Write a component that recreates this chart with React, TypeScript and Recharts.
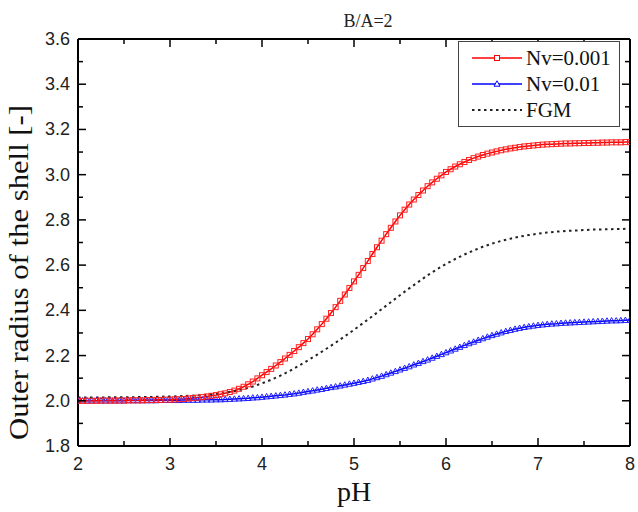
import React from 'react';
import { LineChart, Line, XAxis, YAxis, Legend } from 'recharts';

const phValues = [2,2.05,2.1,2.15,2.2,2.25,2.3,2.35,2.4,2.45,2.5,2.55,2.6,2.65,2.7,2.75,2.8,2.85,2.9,2.95,3,3.05,3.1,3.15,3.2,3.25,3.3,3.35,3.4,3.45,3.5,3.55,3.6,3.65,3.7,3.75,3.8,3.85,3.9,3.95,4,4.05,4.1,4.15,4.2,4.25,4.3,4.35,4.4,4.45,4.5,4.55,4.6,4.65,4.7,4.75,4.8,4.85,4.9,4.95,5,5.05,5.1,5.15,5.2,5.25,5.3,5.35,5.4,5.45,5.5,5.55,5.6,5.65,5.7,5.75,5.8,5.85,5.9,5.95,6,6.05,6.1,6.15,6.2,6.25,6.3,6.35,6.4,6.45,6.5,6.55,6.6,6.65,6.7,6.75,6.8,6.85,6.9,6.95,7,7.05,7.1,7.15,7.2,7.25,7.3,7.35,7.4,7.45,7.5,7.55,7.6,7.65,7.7,7.75,7.8,7.85,7.9,7.95,8];

const nv001 = [
  2.000,2.000,2.000,2.000,2.000,2.001,2.001,2.001,2.001,2.001,
  2.001,2.002,2.002,2.002,2.002,2.003,2.003,2.004,2.004,2.005,
  2.005,2.006,2.007,2.008,2.010,2.012,2.014,2.016,2.019,2.022,
  2.025,2.029,2.033,2.039,2.045,2.053,2.062,2.073,2.085,2.099,
  2.113,2.127,2.141,2.156,2.171,2.187,2.203,2.220,2.237,2.255,
  2.273,2.294,2.316,2.339,2.363,2.388,2.414,2.442,2.470,2.499,
  2.528,2.557,2.587,2.618,2.649,2.679,2.708,2.737,2.765,2.793,
  2.820,2.845,2.868,2.890,2.910,2.930,2.949,2.966,2.982,2.997,
  3.012,3.024,3.036,3.046,3.056,3.065,3.073,3.080,3.087,3.093,
  3.098,3.103,3.108,3.112,3.116,3.119,3.122,3.125,3.127,3.129,
  3.131,3.133,3.134,3.135,3.136,3.137,3.138,3.138,3.139,3.139,
  3.140,3.140,3.141,3.141,3.142,3.142,3.143,3.143,3.143,3.144,
  3.144
];

const nv01 = [
  2.000,2.000,2.000,2.000,2.000,2.000,2.000,2.000,2.000,2.000,
  2.000,2.001,2.001,2.001,2.001,2.001,2.001,2.001,2.002,2.002,
  2.002,2.002,2.002,2.003,2.003,2.003,2.003,2.004,2.004,2.004,
  2.005,2.005,2.006,2.007,2.008,2.009,2.010,2.011,2.013,2.014,
  2.016,2.018,2.020,2.022,2.024,2.026,2.029,2.031,2.034,2.038,
  2.041,2.044,2.048,2.051,2.055,2.059,2.062,2.066,2.070,2.074,
  2.078,2.082,2.086,2.091,2.097,2.103,2.109,2.116,2.123,2.130,
  2.137,2.144,2.151,2.159,2.166,2.174,2.181,2.189,2.197,2.205,
  2.213,2.221,2.229,2.237,2.245,2.253,2.260,2.268,2.275,2.282,
  2.289,2.295,2.301,2.307,2.312,2.317,2.321,2.325,2.328,2.331,
  2.334,2.336,2.338,2.340,2.341,2.343,2.344,2.345,2.346,2.347,
  2.348,2.349,2.350,2.351,2.352,2.353,2.354,2.354,2.355,2.356,
  2.357
];

const fgmPH = [2,2.1,2.2,2.3,2.4,2.5,2.6,2.7,2.8,2.9,3,3.1,3.2,3.3,3.4,3.5,3.6,3.7,3.8,3.9,4,4.1,4.2,4.3,4.4,4.5,4.6,4.7,4.8,4.9,5,5.1,5.2,5.3,5.4,5.5,5.6,5.7,5.8,5.9,6,6.1,6.2,6.3,6.4,6.5,6.6,6.7,6.8,6.9,7,7.1,7.2,7.3,7.4,7.5,7.6,7.7,7.8,7.9,8];

const fgmValues = [
  2.015,2.015,2.015,2.015,2.016,2.016,2.016,2.017,2.017,2.018,
  2.019,2.020,2.022,2.024,2.027,2.031,2.036,2.043,2.052,2.063,
  2.077,2.093,2.111,2.132,2.155,2.179,2.204,2.230,2.257,2.285,
  2.314,2.344,2.374,2.405,2.436,2.467,2.497,2.526,2.555,2.581,
  2.605,2.627,2.647,2.665,2.681,2.695,2.707,2.717,2.726,2.733,
  2.739,2.744,2.748,2.751,2.753,2.755,2.757,2.758,2.759,2.760,
  2.761
];

const xTicks = [2,2.5,3,3.5,4,4.5,5,5.5,6,6.5,7,7.5,8];
const yTicks = [1.8,1.9,2.0,2.1,2.2,2.3,2.4,2.5,2.6,2.7,2.8,2.9,3.0,3.1,3.2,3.3,3.4,3.5,3.6];

const titleText = 'B/A=2';
const xLabel = 'pH';
const yLabel = 'Outer radius of the shell [-]';
const legendItems = [
  { name: 'Nv=0.001', color: '#ff0000', marker: 'square' },
  { name: 'Nv=0.01', color: '#0000ff', marker: 'triangle' },
  { name: 'FGM', color: '#222222', marker: 'dots' },
];

const mainTable = phValues.map((p, i) => ({ pH: p, nv001: nv001[i], nv01: nv01[i] }));
const fgmTable = fgmPH.map((p, i) => ({ pH: p, fgm: fgmValues[i] }));

const SANS = '"Liberation Sans", Arial, sans-serif';
const SERIF = '"Liberation Serif", "Times New Roman", serif';

const isMajorX = (v: number) => Math.abs(v - Math.round(v)) < 1e-6;
const isMajorY = (v: number) => Math.round(v * 10) % 2 === 0;

const BottomTick = (props: any) => {
  const { x, y, payload } = props;
  const v = payload.value;
  const major = isMajorX(v);
  return (
    <g>
      <line x1={x} x2={x} y1={y} y2={y - (major ? 8 : 5)} stroke="#000" strokeWidth={1.5} />
      {major && (
        <text x={x} y={y + 18} textAnchor="middle" dominantBaseline="central" fontFamily={SANS} fontSize={18} fill="#222">
          {String(v)}
        </text>
      )}
    </g>
  );
};

const TopTick = (props: any) => {
  const { x, y, payload } = props;
  const major = isMajorX(payload.value);
  return <line x1={x} x2={x} y1={y} y2={y + (major ? 8 : 5)} stroke="#000" strokeWidth={1.5} />;
};

const LeftTick = (props: any) => {
  const { x, y, payload } = props;
  const v = payload.value;
  const major = isMajorY(v);
  return (
    <g>
      <line x1={x} x2={x + (major ? 8 : 5)} y1={y} y2={y} stroke="#000" strokeWidth={1.5} />
      {major && (
        <text x={x - 8} y={y} textAnchor="end" dominantBaseline="central" fontFamily={SANS} fontSize={18} fill="#222">
          {v.toFixed(1)}
        </text>
      )}
    </g>
  );
};

const RightTick = (props: any) => {
  const { x, y, payload } = props;
  const major = isMajorY(payload.value);
  return <line x1={x} x2={x - (major ? 8 : 5)} y1={y} y2={y} stroke="#000" strokeWidth={1.5} />;
};

const SquareDot = (props: any) => {
  const { cx, cy, index } = props;
  if (cx == null || cy == null) return <g key={`s${index}`} />;
  return <rect key={`s${index}`} x={cx - 2.5} y={cy - 2.5} width={5} height={5} fill="none" stroke="#ff2020" strokeWidth={1} />;
};

const TriangleDot = (props: any) => {
  const { cx, cy, index } = props;
  if (cx == null || cy == null) return <g key={`t${index}`} />;
  const pts = `${cx},${cy - 3.2} ${cx - 3},${cy + 2.2} ${cx + 3},${cy + 2.2}`;
  return <polygon key={`t${index}`} points={pts} fill="none" stroke="#2020ff" strokeWidth={1} />;
};

const TitleLabel = (props: any) => {
  const vb = props.viewBox || { x: 78, y: 39, width: 552 };
  return (
    <text x={vb.x + vb.width / 2 + 14} y={27} textAnchor="middle" fontFamily={SERIF} fontSize={18} fill="#222">
      {titleText}
    </text>
  );
};

const XLabel = (props: any) => {
  const vb = props.viewBox || { x: 78, y: 446, width: 552 };
  return (
    <text x={vb.x + vb.width / 2} y={vb.y + 55} textAnchor="middle" fontFamily={SERIF} fontSize={28} fill="#111">
      {xLabel}
    </text>
  );
};

const YLabel = (props: any) => {
  const vb = props.viewBox || { x: 0, y: 39, width: 78, height: 407 };
  const cx = 28;
  const cy = vb.y + vb.height / 2 + 30;
  return (
    <text
      x={cx}
      y={cy}
      transform={`rotate(-90 ${cx} ${cy})`}
      textAnchor="middle"
      fontFamily={SERIF}
      fontSize={27}
      fill="#111"
      textLength={335}
      lengthAdjust="spacingAndGlyphs"
    >
      {yLabel}
    </text>
  );
};

const LegendBox = () => {
  const rows = [17, 43, 69];
  return (
    <svg width={162} height={86} style={{ display: 'block' }}>
      <rect x={0.5} y={0.5} width={161} height={85} fill="#fff" stroke="#444" strokeWidth={1} />
      {legendItems.map((it, i) => {
        const y = rows[i];
        return (
          <g key={it.name}>
            {it.marker === 'dots' ? (
              <line x1={14} x2={64} y1={y} y2={y} stroke={it.color} strokeWidth={2} strokeDasharray="2.5 3.5" />
            ) : (
              <line x1={14} x2={64} y1={y} y2={y} stroke={it.color} strokeWidth={1.5} />
            )}
            {it.marker === 'square' && <rect x={36.5} y={y - 2.5} width={5} height={5} fill="#fff" stroke={it.color} strokeWidth={1} />}
            {it.marker === 'triangle' && (
              <polygon points={`39,${y - 3.2} 36,${y + 2.2} 42,${y + 2.2}`} fill="#fff" stroke={it.color} strokeWidth={1} />
            )}
            <text x={68} y={y + 7} fontFamily={SERIF} fontSize={21} fill="#111">
              {it.name}
            </text>
          </g>
        );
      })}
    </svg>
  );
};

export default function App() {
  return (
    <div style={{ position: 'absolute', left: 0, top: 0, width: 638, height: 512, background: '#fff' }}>
      <LineChart width={638} height={512} margin={{ top: 38, right: 7, bottom: 0, left: 0 }}>
        <XAxis
          xAxisId="bottom"
          dataKey="pH"
          type="number"
          domain={[2, 8]}
          ticks={xTicks}
          interval={0}
          height={66}
          tickSize={0}
          tickMargin={0}
          tickLine={false}
          tick={BottomTick}
          axisLine={{ stroke: '#000', strokeWidth: 2 }}
          allowDataOverflow
          label={XLabel}
        />
        <XAxis
          xAxisId="top"
          orientation="top"
          dataKey="pH"
          type="number"
          domain={[2, 8]}
          ticks={xTicks}
          interval={0}
          height={1}
          tickSize={0}
          tickMargin={0}
          tickLine={false}
          tick={TopTick}
          axisLine={{ stroke: '#000', strokeWidth: 2 }}
          allowDataOverflow
          label={TitleLabel}
        />
        <YAxis
          yAxisId="left"
          type="number"
          domain={[1.8, 3.6]}
          ticks={yTicks}
          interval={0}
          width={78}
          tickSize={0}
          tickMargin={0}
          tickLine={false}
          tick={LeftTick}
          axisLine={{ stroke: '#000', strokeWidth: 2 }}
          allowDataOverflow
          label={YLabel}
        />
        <YAxis
          yAxisId="right"
          orientation="right"
          type="number"
          domain={[1.8, 3.6]}
          ticks={yTicks}
          interval={0}
          width={1}
          tickSize={0}
          tickMargin={0}
          tickLine={false}
          tick={RightTick}
          axisLine={{ stroke: '#000', strokeWidth: 2 }}
          allowDataOverflow
        />
        <Line
          data={fgmTable}
          xAxisId="top"
          yAxisId="right"
          dataKey="fgm"
          stroke="none"
          strokeOpacity={0}
          dot={false}
          activeDot={false}
          legendType="none"
          isAnimationActive={false}
        />
        <Line
          data={mainTable}
          xAxisId="bottom"
          yAxisId="left"
          dataKey="nv01"
          name="Nv=0.01"
          stroke="#0000ff"
          strokeWidth={1.5}
          dot={TriangleDot}
          activeDot={false}
          isAnimationActive={false}
        />
        <Line
          data={mainTable}
          xAxisId="bottom"
          yAxisId="left"
          dataKey="nv001"
          name="Nv=0.001"
          stroke="#ff0000"
          strokeWidth={1.5}
          dot={SquareDot}
          activeDot={false}
          isAnimationActive={false}
        />
        <Line
          data={fgmTable}
          xAxisId="bottom"
          yAxisId="left"
          dataKey="fgm"
          name="FGM"
          stroke="#222"
          strokeWidth={2}
          strokeDasharray="2.5 3.5"
          dot={false}
          activeDot={false}
          isAnimationActive={false}
        />
        <Legend
          layout="vertical"
          align="center"
          verticalAlign="middle"
          content={LegendBox}
          wrapperStyle={{ left: 458, top: 41, width: 162, height: 86, right: 'auto', bottom: 'auto' }}
        />
      </LineChart>
    </div>
  );
}
